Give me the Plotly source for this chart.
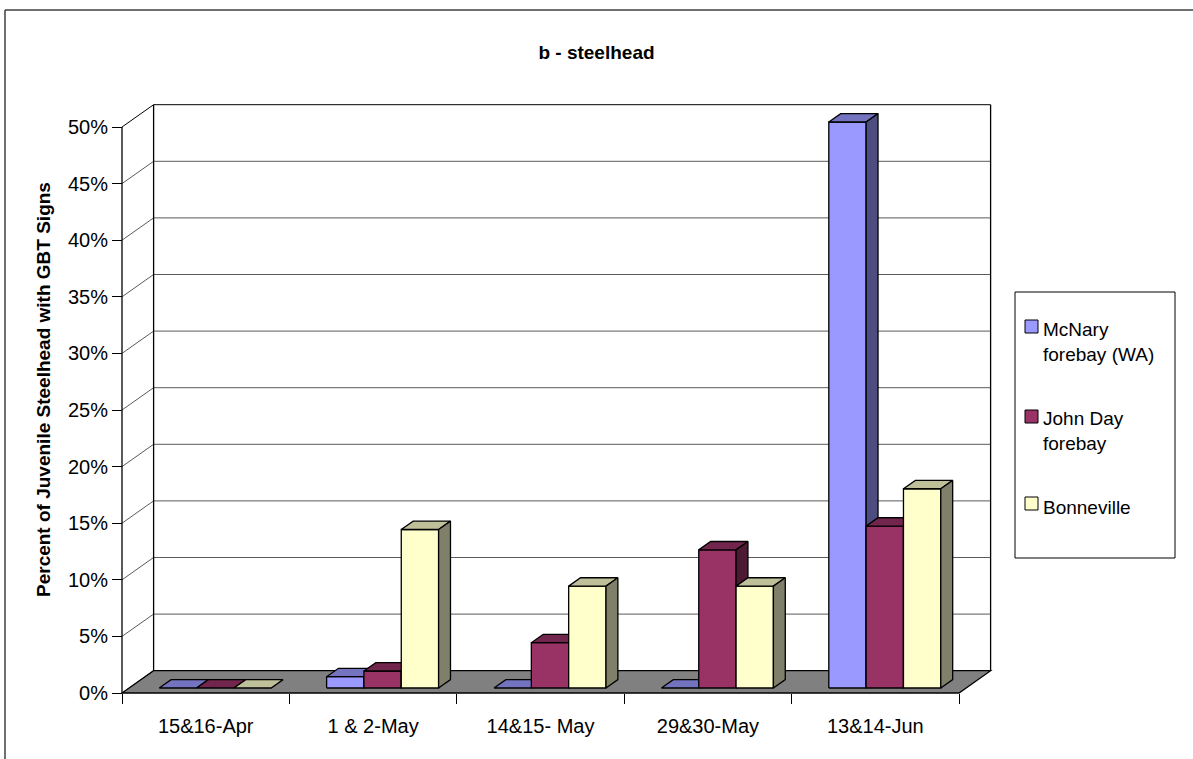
import plotly.graph_objects as go

# ---- data ----
categories = ["15&16-Apr", "1 & 2-May", "14&15- May", "29&30-May", "13&14-Jun"]
series_names = ["McNary forebay (WA)", "John Day forebay", "Bonneville"]
legend_text = ["McNary<br>forebay (WA)", "John Day<br>forebay", "Bonneville"]
mcnary_pct = [0.0, 1.0, 0.0, 0.0, 50.0]
john_day_pct = [0.0, 1.5, 4.0, 12.2, 14.3]
bonneville_pct = [0.0, 14.0, 9.0, 9.0, 17.6]
y_tick_values = [0, 5, 10, 15, 20, 25, 30, 35, 40, 45, 50]
y_tick_labels = ["0%", "5%", "10%", "15%", "20%", "25%", "30%", "35%", "40%", "45%", "50%"]
chart_title = "b - steelhead"
y_axis_title = "Percent of Juvenile Steelhead with GBT Signs"

series_values = [mcnary_pct, john_day_pct, bonneville_pct]
# (front, top, side) shading for each series
face_colors = [
    ("#9999FF", "#7373BF", "#4D4D80"),
    ("#993366", "#73264D", "#4D1A33"),
    ("#FFFFCC", "#BFBF99", "#80806A"),
]

FONT = "Arial, Liberation Sans, sans-serif"
TICK_SIZE = 20
LEGEND_SIZE = 19

# ---- page geometry ----
W, H = 1193, 759
AX_X0 = 122          # pixel column of the front value axis
AX_Y0 = 693          # pixel row of the front floor edge
PX_PER_CAT = 167.4
PX_PER_PCT = 11.32
Y_MAX = 50

# oblique depth of the floor, expressed in axis units
DEPTH_X = 31.6 / PX_PER_CAT
DEPTH_Y = 22.3 / PX_PER_PCT
Z_FRONT, Z_BACK = 0.224, 0.60     # bar slab within the floor depth (0..1)
BAR_W = 0.223                     # bar width in category units
GROUP_OFFSET = 0.18               # left gap before the first bar of a group

n_cat = len(categories)

M_L, M_R, M_T, M_B = 114, 194, 98, 59
x_range = [(M_L - AX_X0) / PX_PER_CAT, (W - M_R - AX_X0) / PX_PER_CAT]
y_range = [(AX_Y0 - (H - M_B)) / PX_PER_PCT, (AX_Y0 - M_T) / PX_PER_PCT]
PLOT_W = W - M_L - M_R
PLOT_H = H - M_T - M_B


def paper_x(px):
    return (px - M_L) / PLOT_W


def paper_y(py):
    return ((H - M_B) - py) / PLOT_H


def proj(x, y, z):
    """Oblique projection of (category, value, depth) onto the 2-D axes."""
    return x + z * DEPTH_X, y + z * DEPTH_Y


def path_of(points):
    return "M " + " L ".join(f"{x},{y}" for x, y in points) + " Z"


shapes = []

# back wall
bx0, by0 = proj(0, 0, 1)
bx1, by1 = proj(n_cat, Y_MAX, 1)
shapes.append(dict(type="rect", xref="x", yref="y", x0=bx0, y0=by0, x1=bx1, y1=by1,
                   fillcolor="white", line=dict(width=0), layer="below"))

GRID = "#5a5a5a"
for v in y_tick_values:
    # gridline across the back wall
    gx0, gy = proj(0, v, 1)
    gx1, _ = proj(n_cat, v, 1)
    col = "black" if v == Y_MAX else GRID
    shapes.append(dict(type="line", xref="x", yref="y", x0=gx0, y0=gy, x1=gx1, y1=gy,
                       line=dict(color=col, width=1), layer="below"))
    # receding line on the side wall
    sx0, sy0 = proj(0, v, 0)
    shapes.append(dict(type="line", xref="x", yref="y", x0=sx0, y0=sy0, x1=gx0, y1=gy,
                       line=dict(color=col, width=1), layer="below"))

# wall edges and front value axis
for (p0, p1) in [((0, 0, 1), (0, Y_MAX, 1)),
                 ((n_cat, 0, 1), (n_cat, Y_MAX, 1)),
                 ((0, 0, 0), (0, Y_MAX, 0))]:
    a = proj(*p0)
    b = proj(*p1)
    shapes.append(dict(type="line", xref="x", yref="y", x0=a[0], y0=a[1], x1=b[0], y1=b[1],
                       line=dict(color="black", width=1.3), layer="below"))

# floor
floor = [proj(0, 0, 0), proj(n_cat, 0, 0), proj(n_cat, 0, 1), proj(0, 0, 1)]
shapes.append(dict(type="path", xref="x", yref="y", path=path_of(floor),
                   fillcolor="#808080", line=dict(color="black", width=1.3), layer="below"))

# outer chart frame (top and left edges)
shapes.append(dict(type="line", xref="paper", yref="paper",
                   x0=paper_x(5), y0=paper_y(10), x1=paper_x(W + 5), y1=paper_y(10),
                   line=dict(color="#404040", width=1.5)))
shapes.append(dict(type="line", xref="paper", yref="paper",
                   x0=paper_x(5), y0=paper_y(10), x1=paper_x(5), y1=paper_y(H + 5),
                   line=dict(color="#404040", width=1.5)))


def face_trace(polys, color):
    xs, ys = [], []
    for poly in polys:
        for x, y in poly + [poly[0]]:
            xs.append(x)
            ys.append(y)
        xs.append(None)
        ys.append(None)
    return go.Scatter(x=xs, y=ys, mode="lines", fill="toself", fillcolor=color,
                      line=dict(color="black", width=1.3), hoverinfo="skip",
                      showlegend=False)


fig = go.Figure()

for s, (name, values) in enumerate(zip(series_names, series_values)):
    fronts, tops, sides = [], [], []
    for c, h in enumerate(values):
        x0 = c + GROUP_OFFSET + s * BAR_W
        x1 = x0 + BAR_W
        tops.append([proj(x0, h, Z_FRONT), proj(x1, h, Z_FRONT),
                     proj(x1, h, Z_BACK), proj(x0, h, Z_BACK)])
        if h > 0:
            fronts.append([proj(x0, 0, Z_FRONT), proj(x1, 0, Z_FRONT),
                           proj(x1, h, Z_FRONT), proj(x0, h, Z_FRONT)])
            sides.append([proj(x1, 0, Z_FRONT), proj(x1, 0, Z_BACK),
                          proj(x1, h, Z_BACK), proj(x1, h, Z_FRONT)])
    front_c, top_c, side_c = face_colors[s]
    if fronts:
        fig.add_trace(face_trace(fronts, front_c))
    fig.add_trace(face_trace(tops, top_c))
    if sides:
        fig.add_trace(face_trace(sides, side_c))

annotations = []
# value-axis title
annotations.append(dict(text=f"<b>{y_axis_title}</b>", xref="paper", yref="paper",
                        x=paper_x(43), y=paper_y(390), textangle=-90, showarrow=False,
                        xanchor="center", yanchor="middle",
                        font=dict(family=FONT, size=19, color="black")))

# legend box
LEG_X0, LEG_X1, LEG_Y0, LEG_Y1 = 1015, 1175, 292, 558
shapes.append(dict(type="rect", xref="paper", yref="paper",
                   x0=paper_x(LEG_X0), x1=paper_x(LEG_X1),
                   y0=paper_y(LEG_Y1), y1=paper_y(LEG_Y0),
                   fillcolor="white", line=dict(color="black", width=1)))
swatch_tops = [320, 410, 497]
text_mids = [342, 431, 507]
for i, label in enumerate(legend_text):
    t = swatch_tops[i]
    shapes.append(dict(type="rect", xref="paper", yref="paper",
                       x0=paper_x(1025), x1=paper_x(1038),
                       y0=paper_y(t + 13), y1=paper_y(t),
                       fillcolor=face_colors[i][0], line=dict(color="black", width=1)))
    annotations.append(dict(text=label, xref="paper", yref="paper",
                            x=paper_x(1041), y=paper_y(text_mids[i]), showarrow=False,
                            xanchor="left", yanchor="middle", align="left",
                            font=dict(family=FONT, size=LEGEND_SIZE, color="black")))

fig.update_layout(
    width=W, height=H,
    margin=dict(l=M_L, r=M_R, t=M_T, b=M_B, autoexpand=False),
    paper_bgcolor="white", plot_bgcolor="white",
    showlegend=False,
    title=dict(text=f"<b>{chart_title}</b>", x=0.5, xref="container", xanchor="center",
               y=1 - 52 / H, yref="container", yanchor="middle",
               font=dict(family=FONT, size=19, color="black")),
    xaxis=dict(range=x_range, tickmode="array",
               tickvals=[c + 0.5 for c in range(n_cat)], ticktext=categories,
               ticks="outside", ticklen=15, tickcolor="rgba(0,0,0,0)",
               minor=dict(tickmode="array", tickvals=list(range(n_cat + 1)),
                          ticks="outside", ticklen=10, tickcolor="black", tickwidth=1,
                          showgrid=False),
               showgrid=False, zeroline=False, showline=False,
               anchor="free", position=(0 - y_range[0]) / (y_range[1] - y_range[0]),
               tickfont=dict(family=FONT, size=TICK_SIZE, color="black"), fixedrange=True),
    yaxis=dict(range=y_range, tickmode="array", tickvals=y_tick_values,
               ticktext=y_tick_labels, ticks="outside", ticklen=10,
               tickcolor="black", tickwidth=1,
               showgrid=False, zeroline=False, showline=False,
               anchor="free", position=(0 - x_range[0]) / (x_range[1] - x_range[0]),
               tickfont=dict(family=FONT, size=TICK_SIZE, color="black"), fixedrange=True),
    shapes=shapes,
    annotations=annotations,
)

fig.write_html("out.html")
